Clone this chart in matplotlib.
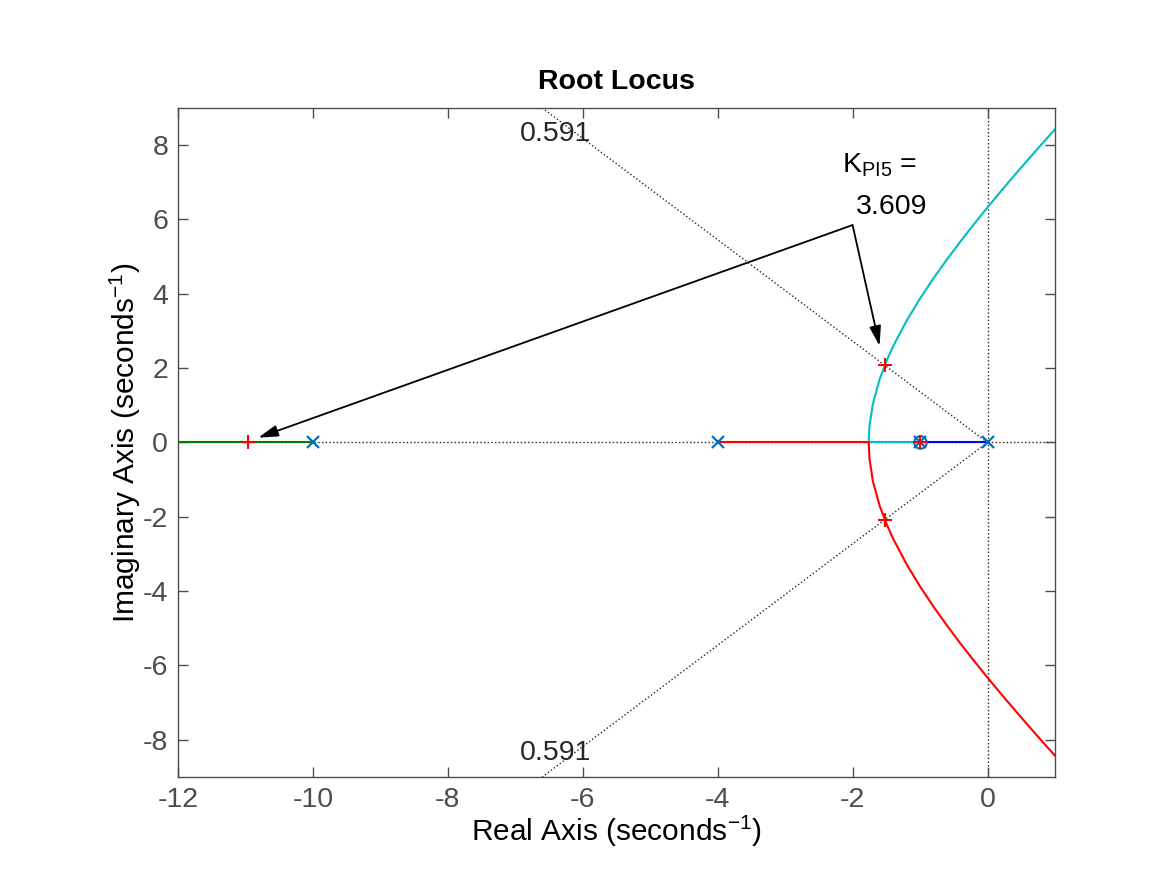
import matplotlib
matplotlib.use('Agg')
import matplotlib.pyplot as plt

plt.rcParams['font.family'] = ['Liberation Sans', 'DejaVu Sans']
plt.rcParams['axes.unicode_minus'] = False

# open-loop poles / zeros
poles = [0.0, -1.0, -4.0, -10.0]
zeros = [-1.0]

# closed-loop poles at K_PI5 = 3.609
cl_re = [-1.52, -1.52, -10.96, -1.0]
cl_im = [2.09, -2.09, 0.0, 0.0]

# upper complex branch, lower one is its mirror
branch_re = [-1.7607, -1.75, -1.7, -1.6, -1.5, -1.4, -1.2, -1.0, -0.8, -0.6,
             -0.4, -0.2, 0.0, 0.2, 0.4, 0.6, 0.8, 1.0]
branch_im = [0.0, 0.433, 1.034, 1.697, 2.179, 2.585, 3.274, 3.873, 4.418, 4.927,
             5.411, 5.875, 6.325, 6.762, 7.189, 7.608, 8.020, 8.426]

# real-axis segments
seg_blue = [0.0, -1.0]
seg_cyan = [-1.0, -1.7607]
seg_red = [-4.0, -1.7607]
seg_green = [-10.0, -12.0]

# damping line (zeta = 0.591) end point on the top edge
zeta_re = [0.0, -6.6]
zeta_im = [0.0, 9.0]

gray = '#262626'
tick_gray = '#4d4d4d'
pole_blue = '#0072BD'
cyan = '#00BFBF'

fig = plt.figure(figsize=(11.67, 8.75), dpi=100)
ax = fig.add_axes([0.1525, 0.112, 0.7515, 0.7646])

# grid lines
ax.axhline(0, color=gray, ls=':', lw=1.0, zorder=1)
ax.axvline(0, color=gray, ls=':', lw=1.0, zorder=1)
ax.plot(zeta_re, zeta_im, color=gray, ls=':', lw=1.0, zorder=1)
ax.plot(zeta_re, [-v for v in zeta_im], color=gray, ls=':', lw=1.0, zorder=1)

# branches
ax.plot(seg_blue, [0, 0], color='blue', lw=1.5, zorder=2)
ax.plot(seg_cyan, [0, 0], color=cyan, lw=1.5, zorder=2)
ax.plot(seg_red, [0, 0], color='red', lw=1.5, zorder=2)
ax.plot(seg_green, [0, 0], color='green', lw=1.5, zorder=2)
ax.plot(branch_re, branch_im, color=cyan, lw=1.5, zorder=2)
ax.plot(branch_re, [-v for v in branch_im], color='red', lw=1.5, zorder=2)

# poles and zeros
ax.plot(poles, [0] * len(poles), 'x', color=pole_blue, ms=8, mew=1.6, zorder=3)
ax.plot(zeros, [0] * len(zeros), 'o', color=pole_blue, ms=9, mew=1.5,
        mfc='none', zorder=3)
ax.plot(cl_re, cl_im, '+', color='red', ms=10, mew=1.5, zorder=4)

# damping labels
ax.text(-6.93, 8.3, '0.591', fontsize=20.5, color=gray, va='center', ha='left')
ax.text(-6.93, -8.35, '0.591', fontsize=20.5, color=gray, va='center', ha='left')

# annotation
ax.text(-2.16, 7.28, r'K$_{\mathregular{PI5}}$ =', fontsize=20.5, color='black',
        va='baseline', ha='left')
ax.text(-1.95, 6.15, '3.609', fontsize=20.5, color='black', va='baseline', ha='left')
arr = dict(arrowstyle='-|>,head_length=1.2,head_width=0.35', color='black',
           lw=1.3, shrinkA=0, shrinkB=0)
ax.annotate('', xy=(-1.6, 2.6), xytext=(-2.0, 5.85), arrowprops=arr)
ax.annotate('', xy=(-10.81, 0.13), xytext=(-2.0, 5.85), arrowprops=arr)

ax.set_xlim(-12, 1)
ax.set_ylim(-9, 9)
ax.set_xticks(range(-12, 1, 2))
ax.set_yticks(range(-8, 9, 2))
ax.tick_params(direction='in', length=7, width=1, colors=tick_gray,
               labelsize=20.5, top=True, right=True, pad=7)
for s in ax.spines.values():
    s.set_color(tick_gray)
    s.set_linewidth(1)

ax.set_title('Root Locus', fontsize=20.5, fontweight='bold', pad=14)
ax.set_xlabel('Real Axis (seconds$^{\\mathregular{-1}}$)', fontsize=21.5, labelpad=0)
ax.set_ylabel('Imaginary Axis (seconds$^{\\mathregular{-1}}$)', fontsize=21.5, labelpad=0)

fig.savefig('out.png', dpi=100, facecolor='white')
